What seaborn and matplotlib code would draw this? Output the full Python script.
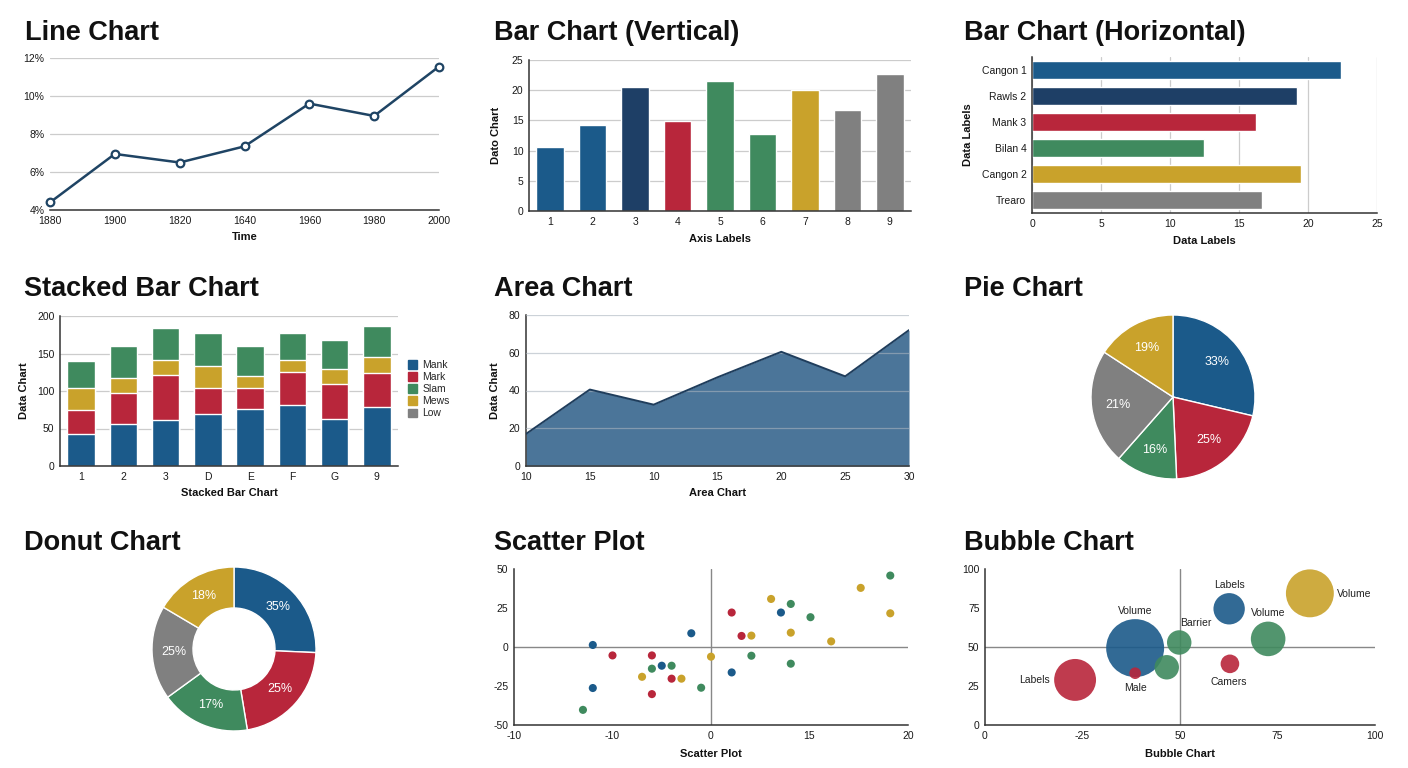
import seaborn as sns
import matplotlib.pyplot as plt
from matplotlib.patches import Patch

# palette
BLUE = '#1b5a8a'
NAVY = '#1e3f66'
RED = '#b8263b'
GREEN = '#3f8a5e'
GOLD = '#c9a22b'
GRAY = '#808080'

# line chart
line_years = ['1880', '1900', '1820', '1640', '1960', '1980', '2000']
line_values = [4.4, 6.95, 6.5, 7.35, 9.6, 8.95, 11.55]
line_yticks = [4, 6, 8, 10, 12]
line_ylabels = ['4%', '6%', '8%', '10%', '12%']

# vertical bar chart
vbar_labels = ['1', '2', '3', '4', '5', '6', '7', '8', '9']
vbar_values = [10.6, 14.2, 20.6, 14.9, 21.5, 12.7, 20.0, 16.8, 22.7]

# horizontal bar chart
hbar_labels = ['Cangon 1', 'Rawls 2', 'Mank 3', 'Bilan 4', 'Cangon 2', 'Trearo']
hbar_values = [22.4, 19.2, 16.25, 12.45, 19.5, 16.7]

# stacked bar chart
stack_labels = ['1', '2', '3', 'D', 'E', 'F', 'G', '9']
stack_mank = [43, 56, 62, 70, 76, 81, 63, 79]
stack_mark = [32, 41, 60, 34, 28, 44, 47, 45]
stack_mews = [29, 21, 20, 29, 16, 17, 19, 22]
stack_slam = [36, 42, 42, 45, 40, 36, 39, 41]
legend_names = ['Mank', 'Mark', 'Slam', 'Mews', 'Low']

# area chart
area_labels = ['10', '15', '10', '15', '20', '25', '30']
area_values = [17, 40.5, 32.5, 47, 60.5, 47.5, 72]

# pie chart
pie_shares = [28.7, 20.6, 12.2, 22.7, 15.8]
pie_texts = ['33%', '25%', '16%', '21%', '19%']

# donut chart
donut_shares = [25.7, 21.7, 17.6, 18.5, 16.5]
donut_texts = ['35%', '25%', '17%', '25%', '18%']

# scatter plot
scatter_x = [-6.0, -6.0, -2.5, -1.0, 1.05, 3.55,
             -5.0, -3.0, -2.0, -3.0, 1.05, 1.55,
             -6.5, -3.0, -2.0, -0.5, 2.05, 4.05, 5.05, 4.05, 9.1,
             -3.5, -1.5, 0.0, 2.05, 3.05, 4.05, 6.1, 7.6, 9.1]
scatter_y = [1.3, -26.3, -12.0, 8.8, -16.3, 22.1,
             -5.4, -5.4, -20.3, -30.2, 22.1, 7.1,
             -40.3, -13.9, -12.0, -26.1, -5.6, 27.6, 19.1, -10.7, 45.8,
             -19.1, -20.3, -6.2, 7.3, 30.8, 9.2, 3.6, 37.9, 21.6]
scatter_group = ['a'] * 6 + ['b'] * 6 + ['c'] * 9 + ['d'] * 9

# bubble chart
bubble_x = [23.1, 38.5, 38.5, 46.6, 49.8, 62.6, 62.8, 72.6, 83.3]
bubble_y = [28.9, 49.3, 33.2, 37.0, 52.9, 74.5, 39.2, 55.2, 84.4]
bubble_volume = [910, 1740, 70, 310, 310, 510, 180, 620, 1190]
bubble_group = ['b', 'a', 'b', 'c', 'c', 'a', 'b', 'c', 'd']
note_text = ['Labels', 'Volume', 'Male', 'Barrier', 'Labels', 'Volume', 'Volume', 'Camers']
note_x = [12.8, 38.5, 38.5, 54.1, 62.6, 72.6, 94.7, 62.6]
note_y = [28.9, 73.2, 23.6, 65.3, 89.5, 71.7, 83.9, 27.4]

sns.set_theme(style='white')
plt.rcParams['font.family'] = ['Liberation Sans', 'DejaVu Sans']
plt.rcParams['axes.unicode_minus'] = False
plt.rcParams['axes.edgecolor'] = '#333333'
plt.rcParams['axes.linewidth'] = 1.1
plt.rcParams['xtick.color'] = '#1a1a1a'
plt.rcParams['ytick.color'] = '#1a1a1a'
plt.rcParams['xtick.labelsize'] = 7.5
plt.rcParams['ytick.labelsize'] = 7.5

W, H = 1408, 768
fig = plt.figure(figsize=(W / 100, H / 100), dpi=100)
fig.patch.set_facecolor('white')


def box(l, t, r, b):
    return fig.add_axes([l / W, 1 - b / H, (r - l) / W, (b - t) / H])


def title(x, base, s):
    fig.text(x / W, 1 - base / H, s, fontsize=19.5, fontweight='bold',
             va='baseline', ha='left', color='#111111')


def style(ax, grid_axis='y', left=True):
    sns.despine(ax=ax, left=not left)
    ax.tick_params(length=0, pad=4)
    if grid_axis:
        ax.grid(axis=grid_axis, color='#cccccc', lw=0.9)
    ax.set_axisbelow(True)


lab = dict(fontsize=8, fontweight='bold', color='#111111')
pal = {'a': BLUE, 'b': RED, 'c': GREEN, 'd': GOLD}

# ---- Line chart
title(25, 39.5, 'Line Chart')
ax = box(50, 58, 439, 210)
sns.lineplot(x=list(range(len(line_values))), y=line_values, ax=ax, color='#1f4464', lw=1.8,
             marker='o', markersize=5.5, markerfacecolor='white', markeredgecolor='#1f4464',
             markeredgewidth=1.6, clip_on=False, zorder=3)
ax.set_xlim(0, 6)
ax.set_ylim(4, 12)
ax.set_xticks(range(len(line_years)), labels=line_years)
ax.set_yticks(line_yticks, labels=line_ylabels)
style(ax, 'y', left=False)
ax.set_xlabel('Time', labelpad=5, **lab)

# ---- Vertical bar chart
title(494, 39.5, 'Bar Chart (Vertical)')
ax = box(529, 60, 911, 211)
sns.barplot(x=vbar_labels, y=vbar_values, hue=vbar_labels, legend=False, ax=ax,
            palette=[BLUE, BLUE, NAVY, RED, GREEN, GREEN, GOLD, GRAY, GRAY],
            width=0.65, saturation=1)
ax.set_ylim(0, 25)
ax.set_yticks([0, 5, 10, 15, 20, 25])
style(ax, 'y')
ax.set_xlabel('Axis Labels', labelpad=5, **lab)
ax.set_ylabel('Dato Chart', labelpad=8, **lab)

# ---- Horizontal bar chart
title(964, 39.5, 'Bar Chart (Horizontal)')
ax = box(1032, 57, 1377, 213)
sns.barplot(x=hbar_values, y=hbar_labels, hue=hbar_labels, legend=False, ax=ax, orient='h',
            palette=[BLUE, NAVY, RED, GREEN, GOLD, GRAY], width=0.68, saturation=1)
ax.set_xlim(0, 25)
ax.set_ylim(5.5, -0.5)
ax.set_xticks([0, 5, 10, 15, 20, 25])
style(ax, 'x')
ax.set_xlabel('Data Labels', labelpad=5, **lab)
ax.set_ylabel('Data Labels', labelpad=6, **lab)

# ---- Stacked bar chart
title(24, 295.5, 'Stacked Bar Chart')
ax = box(60, 316, 398, 466)
layers = [(stack_mank, BLUE), (stack_mark, RED), (stack_mews, GOLD), (stack_slam, GREEN)]
cum = []
run = [0] * len(stack_labels)
for vals, col in layers:
    run = [a + b for a, b in zip(run, vals)]
    cum.append((run, col))
for vals, col in reversed(cum):
    sns.barplot(x=stack_labels, y=vals, color=col, ax=ax, width=0.65, saturation=1)
ax.set_ylim(0, 200)
ax.set_yticks([0, 50, 100, 150, 200])
style(ax, 'y')
ax.set_xlabel('Stacked Bar Chart', labelpad=5, **lab)
ax.set_ylabel('Data Chart', labelpad=6, **lab)
handles = [Patch(color=c) for c in [BLUE, RED, GREEN, GOLD, GRAY]]
fig.legend(handles, legend_names, loc='upper left', bbox_to_anchor=(408 / W, 1 - 360 / H),
           frameon=False, fontsize=7.5, handlelength=0.85, handleheight=0.85,
           handletextpad=0.55, labelspacing=0.2, borderpad=0, borderaxespad=0)

# ---- Area chart
title(494, 295.5, 'Area Chart')
ax = box(526, 315, 909, 466)
xs = list(range(len(area_values)))
ax.fill_between(xs, area_values, color='#4b7599', lw=0, zorder=2)
sns.lineplot(x=xs, y=area_values, ax=ax, color='#1f3d5c', lw=1.4, zorder=3)
ax.set_xlim(0, 6)
ax.set_ylim(0, 80)
ax.set_xticks(xs, labels=area_labels)
ax.set_yticks([0, 20, 40, 60, 80])
style(ax, 'y')
ax.set_axisbelow(False)
ax.grid(axis='y', color='#aab4bf', lw=0.9, alpha=0.6, zorder=2.5)
ax.set_xlabel('Area Chart', labelpad=5, **lab)
ax.set_ylabel('Data Chart', labelpad=6, **lab)

# ---- Pie chart
title(964, 295.5, 'Pie Chart')
ax = box(1091, 315, 1255, 479)
it = iter(pie_texts)
ax.pie(pie_shares, colors=[BLUE, RED, GREEN, GRAY, GOLD], startangle=90, counterclock=False,
       autopct=lambda p: next(it), pctdistance=0.68,
       textprops=dict(color='white', fontsize=9),
       wedgeprops=dict(edgecolor='white', linewidth=1))
ax.set_xlim(-1, 1)
ax.set_ylim(-1, 1)

# ---- Donut chart
title(24, 550.5, 'Donut Chart')
ax = box(152, 567, 316, 731)
it2 = iter(donut_texts)
ax.pie(donut_shares, colors=[BLUE, RED, GREEN, GRAY, GOLD], startangle=90, counterclock=False,
       autopct=lambda p: next(it2), pctdistance=0.74,
       textprops=dict(color='white', fontsize=9),
       wedgeprops=dict(width=0.5, edgecolor='white', linewidth=1))
ax.set_xlim(-1, 1)
ax.set_ylim(-1, 1)

# ---- Scatter plot
title(494, 550.5, 'Scatter Plot')
ax = box(514, 569, 908, 725)
ax.axhline(0, color='#888888', lw=1, zorder=1)
ax.axvline(0, color='#888888', lw=1, zorder=1)
sns.scatterplot(x=scatter_x, y=scatter_y, hue=scatter_group, palette=pal, s=34,
                linewidth=0, legend=False, ax=ax, zorder=3)
ax.set_xlim(-10, 10)
ax.set_ylim(-50, 50)
ax.set_xticks([-10, -5, 0, 5, 10], labels=['-10', '-10', '0', '15', '20'])
ax.set_yticks([-50, -25, 0, 25, 50])
style(ax, None)
ax.set_xlabel('Scatter Plot', labelpad=6, **lab)

# ---- Bubble chart
title(964, 550.5, 'Bubble Chart')
ax = box(985, 569, 1375, 725)
ax.axhline(50, color='#888888', lw=1, zorder=1)
ax.axvline(50, color='#888888', lw=1, zorder=1)
sns.scatterplot(x=bubble_x, y=bubble_y, hue=bubble_group, palette=pal,
                size=bubble_volume, sizes=(min(bubble_volume), max(bubble_volume)),
                size_norm=(min(bubble_volume), max(bubble_volume)),
                alpha=0.9, linewidth=0, legend=False, ax=ax, zorder=3)
for t, x, y in zip(note_text, note_x, note_y):
    ax.text(x, y, t, fontsize=7.5, ha='center', va='center', color='#222222', zorder=4)
ax.set_xlim(0, 100)
ax.set_ylim(0, 100)
ax.set_xticks([0, 25, 50, 75, 100], labels=['0', '-25', '50', '75', '100'])
ax.set_yticks([0, 25, 50, 75, 100])
style(ax, None)
ax.set_xlabel('Bubble Chart', labelpad=6, **lab)

fig.savefig('out.png', dpi=100, facecolor='white')
